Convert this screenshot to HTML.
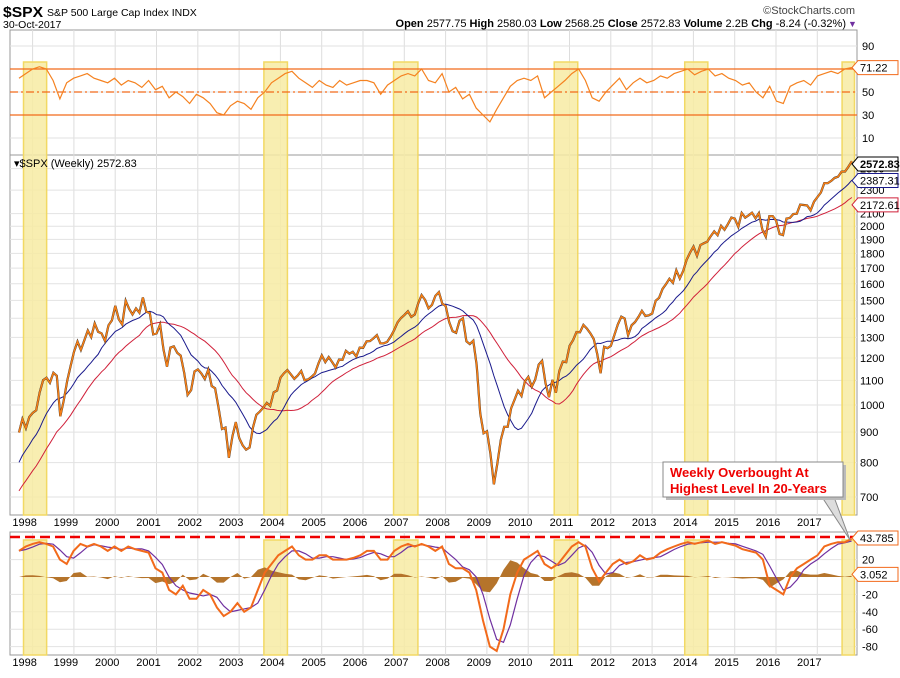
<!DOCTYPE html>
<html><head><meta charset="utf-8">
<style>
body{margin:0;background:#fff;width:900px;height:673px;overflow:hidden;font-family:"Liberation Sans",sans-serif}
svg text{font-family:"Liberation Sans",sans-serif}
</style></head>
<body>
<svg id="chart" width="900" height="673" viewBox="0 0 900 673" xmlns="http://www.w3.org/2000/svg">
<rect x="0" y="0" width="900" height="673" fill="#fff"/>
<text x="3" y="17" font-size="15" font-weight="bold" fill="#000" textLength="40" lengthAdjust="spacingAndGlyphs">$SPX</text>
<text x="47" y="16" font-size="10.5" fill="#000">S&amp;P 500 Large Cap Index INDX</text>
<text x="3" y="28" font-size="10.5" fill="#000">30-Oct-2017</text>
<text x="855" y="14" font-size="11" fill="#444" text-anchor="end">©StockCharts.com</text>
<text x="846" y="27" font-size="11" fill="#000" text-anchor="end"><tspan font-weight="bold">Open</tspan> 2577.75 <tspan font-weight="bold">High</tspan> 2580.03 <tspan font-weight="bold">Low</tspan> 2568.25 <tspan font-weight="bold">Close</tspan> 2572.83 <tspan font-weight="bold">Volume</tspan> 2.2B <tspan font-weight="bold">Chg</tspan> -8.24 (-0.32%)</text>
<text x="848" y="27" font-size="9" fill="#7030a0">▼</text>
<g id="grid"></g>
<g id="bands"></g>
<g id="series"></g>
<g id="axes"></g>
</svg>
<script>
// ---------- data ----------
var priceStart = 1997.67; // Aug 1997 month-end
var priceHistory = [562,584,582,605,616,636,640,645,654,669,671,640,652,687,705,757,741,786,791,757,801,848,885,954];
var priceCloses = [
899,947,914,955,970,
980,1049,1101,1111,1090,1133,1120,957,1017,1098,1163,1229,
1279,1238,1286,1335,1301,1372,1328,1320,1282,1362,1388,1469,
1394,1366,1498,1452,1420,1454,1430,1517,1436,1429,1315,1320,
1366,1240,1160,1249,1255,1224,1211,1133,1040,1059,1139,1148,
1130,1106,1147,1076,1067,989,911,916,815,885,936,880,
855,841,848,917,963,975,990,1008,996,1050,1058,1112,
1131,1145,1126,1107,1121,1141,1101,1104,1115,1130,1174,1212,
1181,1204,1181,1157,1192,1191,1234,1220,1229,1207,1249,1248,
1280,1281,1295,1311,1270,1270,1277,1304,1336,1378,1401,1418,
1438,1407,1421,1482,1531,1503,1455,1474,1527,1549,1481,1468,
1379,1331,1323,1386,1400,1280,1267,1283,1166,969,896,903,
826,735,798,873,919,919,987,1021,1057,1036,1096,1115,
1074,1104,1169,1187,1089,1031,1102,1049,1141,1183,1181,1258,
1286,1327,1326,1364,1345,1321,1292,1219,1131,1253,1247,1258,
1312,1366,1408,1398,1310,1362,1379,1407,1441,1412,1416,1426,
1498,1515,1569,1598,1631,1606,1686,1633,1682,1757,1806,1848,
1783,1859,1872,1884,1924,1960,1931,2003,1972,2018,2068,2059,
1995,2105,2068,2086,2107,2063,2104,1972,1920,2079,2080,2044,
1940,1932,2060,2065,2097,2099,2174,2171,2168,2126,2199,2239,
2279,2364,2363,2384,2412,2423,2470,2472,2519,2573];
var rsiValues = [62,66,70,
72,70,60,44,58,62, 64,66,62,60,58,62, 56,60,58,54,60,52, 55,45,50,46,40,48,
45,40,32,30,38,42, 40,35,45,50,58,62, 66,68,62,58,54,60, 56,54,60,56,58,60,
60,58,48,56,60,64, 66,64,70,60,58,66, 50,54,44,48,36,30, 24,35,45,55,60,62,
60,64,45,50,55,60, 66,70,60,45,42,50, 56,62,52,58,62,58, 60,64,62,66,68,70,
65,68,70,64,66,62, 60,56,58,50,45,55, 42,40,55,58,60,56, 64,66,68,66,70,71.22];
var macdValues = [30,35,38,
40,38,35,20,15,30, 38,35,38,35,30,35, 30,35,32,30,28,10, 5,-15,-20,-10,-25,-25,
-15,-20,-35,-45,-40,-30, -40,-35,-15,5,15,25, 30,35,25,20,20,25, 25,20,20,20,22,25,
30,30,20,20,30,35, 38,35,38,35,30,35, 15,10,10,5,-15,-50, -80,-85,-60,-20,5,20,
25,30,15,10,15,25, 35,40,35,10,-5,5, 15,20,15,18,25,20, 22,28,32,35,38,40,
38,40,42,38,40,38, 36,32,30,28,20,-10, -15,-20,0,10,15,20, 25,35,38,40,40,43.785];
var years = [1998,1999,2000,2001,2002,2003,2004,2005,2006,2007,2008,2009,2010,2011,2012,2013,2014,2015,2016,2017];
var priceTicks = [700,800,900,1000,1100,1200,1300,1400,1500,1600,1700,1800,1900,2000,2100,2300,2500];
var rsiTicks = [10,30,50,90];
var macdTicks = [-80,-60,-40,-20,20];
var bandStarts = [1997.78,2003.6,2006.74,2010.63,2013.79,2017.6];
var bandEnds = [1998.34,2004.17,2007.33,2011.2,2014.35,2017.9];

// ---------- scales ----------
var L=10,R=857;
function xT(t){return 32.6+(t-1998)*41.3;}
function yP(p){return 405-594*Math.log10(p/1000);}
function yR(v){return 92-(v-50)*1.15;}
function yM(v){return 577-v*0.87;}
var tEnd=2017.83;
function tIdx(i,n){return priceStart+(tEnd-priceStart)*i/(n-1);}
var NS="http://www.w3.org/2000/svg";
function mk(tag,attrs,parent){var e=document.createElementNS(NS,tag);for(var k in attrs)e.setAttribute(k,attrs[k]);parent.appendChild(e);return e;}
var G=document.getElementById('grid'),B=document.getElementById('bands'),S=document.getElementById('series'),A=document.getElementById('axes');

[[30,155],[155,515],[532,655]].forEach(function(p,i){
  var r=mk('rect',{x:L,y:p[0],width:R-L,height:p[1]-p[0],fill:'#fff',stroke:'#999','stroke-width':1},G);
  
  
});
years.forEach(function(y){
  var x=xT(y);
  [[30,155],[155,515],[532,655]].forEach(function(p){
    var l=mk('line',{x1:x,x2:x,y1:p[0],y2:p[1],stroke:'#ddd'},G);
    
    
  });
  [526,666].forEach(function(yy){
    var t=mk('text',{x:x-8,y:yy,'font-size':11,'text-anchor':'middle',fill:'#000'},A);
    t.textContent=y;
    
    
  });
});
priceTicks.forEach(function(p){
  var y=yP(p);
  var l=mk('line',{x1:L,x2:R,y1:y,y2:y,stroke:'#e2e2e2'},G);
  
  
  var t=mk('text',{x:860,y:y+4,'font-size':11,fill:'#000'},A);
  t.textContent=p;
  
  
});
rsiTicks.forEach(function(v){
  var y=yR(v);
  var l=mk('line',{x1:L,x2:R,y1:y,y2:y,stroke:'#e2e2e2'},G);
  
  
  var t=mk('text',{x:862,y:y+4,'font-size':11,fill:'#000'},A);
  t.textContent=v;
  
  
});
macdTicks.forEach(function(v){
  var y=yM(v);
  var l=mk('line',{x1:L,x2:R,y1:y,y2:y,stroke:'#e2e2e2'},G);
  
  
  var t=mk('text',{x:862,y:y+4,'font-size':11,fill:'#000'},A);
  t.textContent=v;
  
  
});
bandStarts.forEach(function(s,i){
  var x=xT(s),w=xT(bandEnds[i])-x;
  [[62,515],[540,655]].forEach(function(p){
    var r=mk('rect',{x:x,y:p[0],width:w,height:p[1]-p[0],fill:'#f7eba3','fill-opacity':0.85,stroke:'#f2d964','stroke-width':1.5},B);
    
    
  });
});
[[70,'none'],[30,'none'],[50,'8,3,2,3']].forEach(function(d){
  var l=mk('line',{x1:L,x2:R,y1:yR(d[0]),y2:yR(d[0]),stroke:'#f26a1b','stroke-width':1.2,'stroke-dasharray':d[1]},S);
  
  
});
function path(vals,fx,fy){return vals.map(function(v,i){return (i?'L':'M')+fx(i).toFixed(1)+','+fy(v).toFixed(1);}).join('');}
var rsiLine=mk('path',{d:path(rsiValues,function(i){return xT(tIdx(i,rsiValues.length));},yR),fill:'none',stroke:'#f58220','stroke-width':1.2},S);



var all=priceHistory.concat(priceCloses),off=priceHistory.length;
function sma(n){return priceCloses.map(function(_,i){var s=0;for(var k=0;k<n;k++)s+=all[off+i-k];return s/n;});}
var ma12=sma(12),ma24=sma(24);
var fx=function(i){return xT(priceStart+i/12);};
var red=mk('path',{d:path(ma24,fx,yP),fill:'none',stroke:'#d0203a','stroke-width':1},S);


var blue=mk('path',{d:path(ma12,fx,yP),fill:'none',stroke:'#1a1a8c','stroke-width':1},S);


var pb=mk('path',{d:path(priceCloses,fx,yP),fill:'none',stroke:'#222','stroke-width':2.2},S);


var pl=mk('path',{d:path(priceCloses,fx,yP),fill:'none',stroke:'#f57f17','stroke-width':1.6},S);



var signal=macdValues.map(function(v,i){var a=macdValues[Math.max(0,i-1)],b=macdValues[Math.max(0,i-2)];return (v+a+b)/3;});
var mfx=function(i){return xT(tIdx(i,macdValues.length));};
var hd='M'+mfx(0)+','+yM(0);
macdValues.forEach(function(v,i){hd+='L'+mfx(i).toFixed(1)+','+yM((v-signal[i])*0.55).toFixed(1);});
hd+='L'+mfx(macdValues.length-1)+','+yM(0)+'Z';
var hist=mk('path',{d:hd,fill:'#b5742b',stroke:'none'},S);


var sg=mk('path',{d:path(signal,mfx,yM),fill:'none',stroke:'#7030a0','stroke-width':1.2},S);


var ml=mk('path',{d:path(macdValues,mfx,yM),fill:'none',stroke:'#f26a1b','stroke-width':2},S);


var dl=mk('line',{x1:L,x2:R,y1:537,y2:537,stroke:'#e00','stroke-width':2.5,'stroke-dasharray':'10,5'},S);



function tag(y,txt,col,bold,name){
  var g=mk('g',{},A);
  
  
  mk('path',{d:'M852,'+y+'L858,'+(y-7)+'L898,'+(y-7)+'L898,'+(y+7)+'L858,'+(y+7)+'Z',fill:'#fff',stroke:col,'stroke-width':1},g);
  var t=mk('text',{x:860,y:y+4,'font-size':11,fill:'#000','font-weight':bold?'bold':'normal'},g);
  t.textContent=txt;
}
tag(yR(71.22),'71.22','#f26a1b',false,'rsi-value-tag');
tag(yP(2172.61),'2172.61','#d0203a',false,'ma-104-value-tag');
tag(yP(2387.31),'2387.31','#1a1a8c',false,'ma-52-value-tag');
tag(164,'2572.83','#000',true,'price-value-tag');
tag(538,'43.785','#f26a1b',false,'macd-value-tag');
tag(yM(3.052),'3.052','#f26a1b',false,'histogram-value-tag');
var lab=mk('text',{x:14,y:167,'font-size':11,fill:'#000','font-family':'DejaVu Sans Mono, monospace'},A);
lab.textContent='▾$SPX (Weekly) 2572.83';



var an=mk('g',{},A);


mk('path',{d:'M822,497L850,540L834,497',fill:'#ddd',stroke:'#888'},an);
mk('rect',{x:666,y:465,width:180,height:35,fill:'#bbb'},an);
mk('rect',{x:663,y:462,width:180,height:35,fill:'#fff',stroke:'#888'},an);
var t1=mk('text',{x:670,y:477,'font-size':13,'font-weight':'bold',fill:'#e00'},an);
t1.textContent='Weekly Overbought At';
var t2=mk('text',{x:670,y:493,'font-size':13,'font-weight':'bold',fill:'#e00'},an);
t2.textContent='Highest Level In 20-Years';
</script>
</body></html>
